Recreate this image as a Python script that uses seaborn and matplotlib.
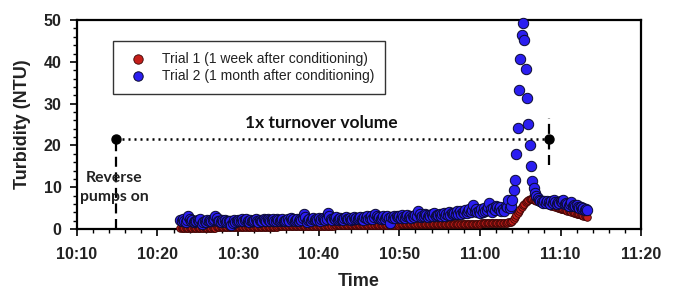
import numpy as np
import pandas as pd
import matplotlib
matplotlib.use("Agg")
import matplotlib.pyplot as plt
import seaborn as sns
from matplotlib.ticker import FixedLocator, MultipleLocator

sns.set_theme(style="ticks")
plt.rcParams['font.family'] = ['Liberation Sans', 'DejaVu Sans']

# ---------------- data ----------------
# samples every 10 s, starting 10:22:50 (minutes after 10:00)
start_min = 22 + 50 / 60
step_min = 10 / 60

trial1_rows = [
    [0.2, 0.2, 0.2, 0.2, 0.2, 0.2],
    [0.2, 0.2, 0.2, 0.3, 0.3, 0.3],
    [0.3, 0.3, 0.3, 0.3, 0.3, 0.3],
    [0.3, 0.3, 0.3, 0.3, 0.3, 0.3],
    [0.3, 0.3, 0.3, 0.4, 0.4, 0.4],
    [0.4, 0.4, 0.4, 0.4, 0.4, 0.4],
    [0.4, 0.4, 0.4, 0.4, 0.4, 0.4],
    [0.4, 0.4, 0.5, 0.5, 0.5, 0.5],
    [0.5, 0.5, 0.5, 0.5, 0.5, 0.5],
    [0.5, 0.5, 0.5, 0.5, 0.6, 0.6],
    [0.6, 0.6, 0.6, 0.6, 0.6, 0.6],
    [0.6, 0.6, 0.6, 0.6, 0.6, 0.6],
    [0.6, 0.7, 0.7, 0.7, 0.7, 0.7],
    [0.7, 0.7, 0.7, 0.7, 0.7, 0.7],
    [0.7, 0.7, 0.7, 0.7, 0.7, 0.7],
    [0.7, 0.8, 0.8, 0.8, 0.8, 0.8],
    [0.8, 0.8, 0.8, 0.8, 0.8, 0.8],
    [0.8, 0.8, 0.8, 0.8, 0.8, 0.8],
    [0.8, 0.8, 0.8, 0.8, 0.8, 0.8],
    [0.8, 0.9, 0.9, 0.9, 0.9, 0.9],
    [0.9, 0.9, 0.9, 0.9, 0.9, 0.9],
    [0.9, 0.9, 0.9, 0.9, 0.9, 0.9],
    [0.9, 0.9, 0.9, 0.9, 0.9, 0.9],
    [0.9, 1.0, 1.0, 1.0, 1.0, 1.0],
    [1.0, 1.0, 1.0, 1.0, 1.0, 1.0],
    [1.0, 1.0, 1.0, 1.0, 1.0, 1.0],
    [1.0, 1.0, 1.0, 1.0, 1.0, 1.0],
    [1.0, 1.1, 1.1, 1.1, 1.1, 1.1],
    [1.1, 1.1, 1.1, 1.1, 1.1, 1.1],
    [1.1, 1.1, 1.1, 1.1, 1.1, 1.1],
    [1.1, 1.1, 1.1, 1.1, 1.1, 1.1],
    [1.1, 1.2, 1.2, 1.2, 1.2, 1.2],
    [1.2, 1.2, 1.2, 1.2, 1.2, 1.2],
    [1.2, 1.2, 1.2, 1.2, 1.2, 1.2],
    [1.2, 1.2, 1.2, 1.2, 1.2, 1.2],
    [1.2, 1.3, 1.3, 1.3, 1.3, 1.3],
    [1.3, 1.3, 1.3, 1.3, 1.3, 1.3],
    [1.3, 1.3, 1.4, 1.4, 1.4, 1.4],
    [1.4, 1.4, 1.4, 1.4, 1.4, 1.4],
    [1.4, 1.4, 1.5, 1.5, 1.5, 1.5],
    [1.5, 1.5, 1.5, 1.5, 1.6, 1.6],
    [1.7, 2.0, 2.4, 2.9, 3.4, 3.9],
    [4.4, 4.9, 5.3, 5.7, 6.0, 6.4],
    [6.7, 6.9, 7.1, 7.2, 7.1, 7.0],
    [6.9, 6.8, 6.6, 6.5, 6.4, 6.3],
    [6.2, 6.1, 6.0, 5.9, 5.8, 5.7],
    [5.6, 5.5, 5.4, 5.3, 5.2, 5.1],
    [5.0, 4.9, 4.8, 4.7, 4.6, 4.5],
    [4.4, 4.3, 4.2, 4.1, 4.0, 3.9],
    [3.8, 3.7, 3.6, 3.5, 3.4, 3.3],
    [3.2, 3.1, 3.0, 2.9],
]

trial2_rows = [
    [2.1, 1.8, 2.3, 2.0, 1.7, 2.2],
    [3.2, 2.4, 1.9, 2.1, 1.6, 2.0],
    [1.8, 2.2, 1.9, 2.3, 1.3, 1.7],
    [2.0, 1.6, 2.1, 1.9, 2.2, 1.8],
    [2.1, 2.3, 3.1, 2.6, 1.9, 2.0],
    [1.7, 2.1, 1.8, 2.2, 1.6, 1.9],
    [2.0, 1.8, 1.0, 1.5, 2.1, 1.7],
    [1.9, 2.2, 1.8, 2.0, 2.3, 1.9],
    [2.1, 2.4, 1.9, 1.7, 2.2, 2.0],
    [1.8, 2.1, 2.3, 2.0, 1.7, 2.2],
    [2.0, 1.9, 2.4, 2.1, 1.8, 2.3],
    [2.2, 1.9, 2.1, 2.4, 2.0, 1.8],
    [2.3, 2.1, 1.9, 2.2, 2.5, 2.0],
    [1.8, 2.2, 2.4, 2.0, 2.6, 2.1],
    [2.3, 1.9, 2.2, 2.5, 2.0, 2.4],
    [2.1, 2.6, 3.5, 2.9, 1.6, 2.2],
    [2.4, 2.0, 2.3, 2.6, 2.1, 2.5],
    [2.2, 2.6, 2.0, 2.4, 2.7, 2.3],
    [2.1, 2.5, 3.9, 3.1, 2.4, 2.2],
    [2.6, 2.3, 2.8, 2.1, 2.5, 2.7],
    [2.4, 2.2, 2.6, 2.9, 2.3, 2.5],
    [2.7, 2.1, 2.5, 2.8, 2.4, 2.6],
    [2.3, 2.7, 2.9, 2.5, 2.2, 2.8],
    [2.6, 3.0, 2.4, 2.7, 3.1, 2.5],
    [2.8, 3.7, 3.2, 2.6, 2.9, 2.4],
    [2.7, 3.0, 2.5, 2.8, 3.1, 2.6],
    [1.4, 2.9, 2.6, 3.2, 2.7, 3.0],
    [2.8, 3.1, 2.6, 3.3, 2.9, 2.7],
    [3.0, 3.4, 2.8, 3.2, 2.6, 3.1],
    [2.9, 3.3, 3.1, 4.2, 3.5, 2.8],
    [3.2, 3.0, 3.6, 3.3, 2.9, 3.4],
    [3.1, 3.5, 3.2, 3.8, 3.0, 3.4],
    [3.3, 3.7, 3.1, 3.5, 3.9, 3.2],
    [3.6, 3.4, 4.0, 3.3, 3.8, 3.5],
    [3.9, 3.5, 4.2, 3.7, 4.4, 3.6],
    [4.1, 3.8, 4.5, 3.9, 4.3, 4.8],
    [4.0, 4.6, 5.7, 4.2, 4.9, 4.1],
    [4.4, 3.8, 4.7, 4.1, 5.0, 4.3],
    [4.6, 5.3, 6.2, 4.8, 4.0, 5.1],
    [4.5, 5.6, 5.3, 4.9, 5.2, 4.4],
    [4.7, 4.2, 5.4, 5.3, 6.9, 5.0],
    [5.6, 6.9, 9.3, 11.7, 17.9, 24.2],
    [33.3, 40.7, 46.5, 49.4, 45.2, 38.3],
    [31.3, 25.2, 20.1, 15.1, 11.5, 9.9],
    [8.5, 7.8, 7.4, 7.0, 6.8, 6.5],
    [6.3, 6.6, 6.2, 6.8, 6.4, 6.1],
    [6.6, 6.3, 6.9, 6.5, 6.0, 6.4],
    [6.2, 6.7, 6.4, 6.9, 5.9, 6.3],
    [6.0, 5.6, 6.1, 6.4, 5.5, 5.8],
    [5.4, 5.8, 5.2, 5.0, 5.3, 4.8],
    [5.0, 4.6, 4.9, 4.5],
]

trial1 = [v for row in trial1_rows for v in row]
trial2 = [v for row in trial2_rows for v in row]
time_min = start_min + step_min * np.arange(len(trial1))

label1 = "Trial 1 (1 week after conditioning)"
label2 = "Trial 2 (1 month after conditioning)"

x_ticks = [10, 20, 30, 40, 50, 60, 70, 80]
x_tick_labels = ["10:10", "10:20", "10:30", "10:40", "10:50", "11:00", "11:10", "11:20"]
y_ticks = [0, 10, 20, 30, 40, 50]

# annotation anchors (minutes after 10:00, NTU)
pump_on_t, pump_on_y = 14.9, 21.5
turnover_t = 68.6

df1 = pd.DataFrame({"time": time_min, "turb": trial1})
df2 = pd.DataFrame({"time": time_min, "turb": trial2})

# ---------------- figure ----------------
fig = plt.figure(figsize=(6.8, 2.91), dpi=100)
ax = fig.add_axes([0.113, 0.213, 0.830, 0.718])

sns.scatterplot(data=df1, x="time", y="turb", ax=ax, s=30, color="#C41E1A",
                edgecolor="#3A0505", linewidth=0.6, label=label1, zorder=3,
                clip_on=False)
sns.scatterplot(data=df2, x="time", y="turb", ax=ax, s=56, color="#2B1EF0",
                edgecolor="#0A0A30", linewidth=0.7, label=label2, zorder=4,
                clip_on=False)

ax.set_xlim(10, 80)
ax.set_ylim(0, 50)
ax.xaxis.set_major_locator(FixedLocator(x_ticks))
ax.set_xticklabels(x_tick_labels)
ax.xaxis.set_minor_locator(MultipleLocator(2))
ax.yaxis.set_major_locator(FixedLocator(y_ticks))
ax.yaxis.set_minor_locator(MultipleLocator(2))

for sp in ax.spines.values():
    sp.set_linewidth(1.6)
    sp.set_color("black")

ax.tick_params(which="major", direction="out", length=5, width=1.2,
               labelsize=11.5, colors="black")
ax.tick_params(axis="x", which="major", pad=8)
ax.tick_params(axis="y", which="major", pad=6)
ax.tick_params(which="minor", direction="out", length=3, width=1.0, colors="black")
ax.tick_params(top=False, right=False, which="both")
for lab in ax.get_xticklabels() + ax.get_yticklabels():
    lab.set_fontweight("bold")
    lab.set_color("#222222")

ax.set_xlabel("Time", fontsize=13, fontweight="bold", labelpad=8, color="#222222")
ax.set_ylabel("Turbidity (NTU)", fontsize=13, fontweight="bold", labelpad=9, color="#222222")

# annotations
ax.plot([pump_on_t, pump_on_t], [0, pump_on_y], color="black", lw=1.6,
        linestyle=(0, (4.5, 2.5)), zorder=2)
ax.plot([pump_on_t, turnover_t], [pump_on_y, pump_on_y], color="black", lw=1.8,
        linestyle=(0, (0.8, 1.6)), zorder=2)
ax.plot([turnover_t, turnover_t], [15.3, 26.6], color="black", lw=1.6,
        linestyle=(0, (4.5, 2.5)), zorder=2)
ax.plot([pump_on_t, turnover_t], [pump_on_y, pump_on_y], "o", color="black",
        ms=6.5, zorder=5, clip_on=False)
ax.text(40.3, 25.3, "1x turnover volume", ha="center", va="center",
        fontsize=12.5, fontweight="bold", family=["Lato", "DejaVu Sans"], color="#111111")
ax.text(14.6, 10.0, "Reverse\npumps on", ha="center", va="center",
        fontsize=11.3, fontweight="bold", family=["Lato", "DejaVu Sans"],
        color="#222222", linespacing=1.45)

leg = ax.legend(loc="upper left", bbox_to_anchor=(0.064, 0.901), frameon=True,
                fancybox=False, edgecolor="black", fontsize=10, borderpad=0.8,
                handlelength=2.0, handletextpad=0.7, labelspacing=0.2,
                borderaxespad=0)
leg.get_frame().set_linewidth(1.0)
for h in leg.legend_handles:
    h.set_sizes([46])
for t in leg.get_texts():
    t.set_color("#222222")

fig.savefig("out.png", dpi=100)
